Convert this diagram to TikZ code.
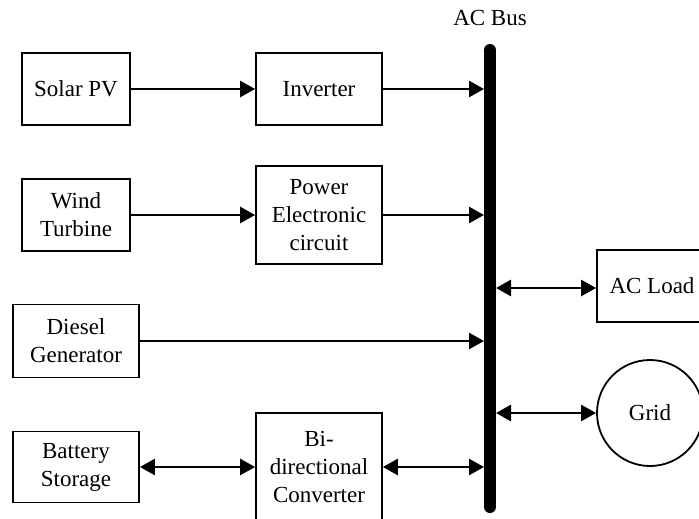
\documentclass[tikz,border=0pt]{standalone}
\usepackage{fontspec}
\setmainfont{Liberation Serif}
\usetikzlibrary{arrows.meta}
\begin{document}
\begin{tikzpicture}[x=1pt,y=-1pt,
  box/.style={draw, line width=1.8pt, align=center, inner sep=0pt,
    font=\fontsize{23}{28}\selectfont},
  conn/.style={line width=2.6pt, -{Triangle[length=15pt,width=16pt]}},
  biconn/.style={line width=2.6pt, {Triangle[length=15pt,width=16pt]}-{Triangle[length=15pt,width=16pt]}},
  busline/.style={line width=12pt, line cap=round}]
\useasboundingbox (0,0) rectangle (699,519);
\clip (0,0) rectangle (699,519);

% sources and converters
\node[box, minimum width=108pt, minimum height=72pt] (sol) at (76,89) {Solar PV};
\node[box, minimum width=126pt, minimum height=72pt] (inv) at (319,89) {Inverter};
\node[box, minimum width=108pt, minimum height=72pt] (wind) at (76,215) {Wind\\Turbine};
\node[box, minimum width=126pt, minimum height=98pt] (pe) at (319,215) {Power\\Electronic\\circuit};
\node[box, minimum width=126pt, minimum height=73pt] (dsl) at (76,341) {Diesel\\Generator};
\node[box, minimum width=126pt, minimum height=71pt] (bat) at (76,467) {Battery\\Storage};
\node[box, minimum width=126pt, minimum height=108pt] (bic) at (319,467) {Bi-\\directional\\Converter};

% loads
\node[box, minimum width=110pt, minimum height=72pt] (load) at (652,286) {AC Load};
\node[box, circle, minimum size=106pt] (grid) at (650,413) {Grid};

% AC bus bar
\coordinate (btop) at (490,50);
\coordinate (bbot) at (490,507);
\draw[busline] (btop) -- (bbot);
\node[font=\fontsize{23}{28}\selectfont] (buslbl) at (490,18) {AC Bus};
\coordinate (bw) at (484,0);
\coordinate (be) at (496,0);

% power flows
\draw[conn] (sol) -- (inv);
\draw[conn] (wind) -- (pe);
\draw[conn] (inv.east) -- (inv.east -| bw);
\draw[conn] (pe.east) -- (pe.east -| bw);
\draw[conn] (dsl.east) -- (dsl.east -| bw);
\draw[biconn] (bat) -- (bic);
\draw[biconn] (bic.east) -- (bic.east -| bw);
\draw[biconn] (be |- 0,288) -- (load.west |- 0,288);
\draw[biconn] (be |- grid.west) -- (grid.west);
\end{tikzpicture}
\end{document}
